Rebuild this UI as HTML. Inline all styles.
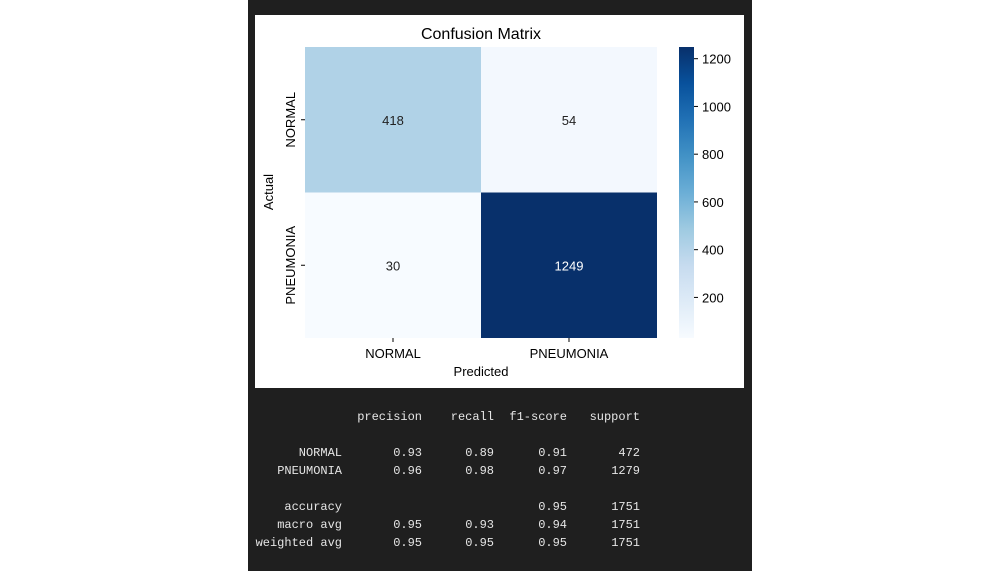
<!DOCTYPE html>
<html><head><meta charset="utf-8"><style>
body{margin:0;background:#fff;width:1000px;height:571px;overflow:hidden}
svg{display:block}
</style></head><body>
<svg id="s" width="1000" height="571" xmlns="http://www.w3.org/2000/svg" font-family="Liberation Sans, DejaVu Sans, sans-serif">
<rect x="248" y="0" width="504" height="571" fill="#1f1f1f"/>
<rect x="255" y="15" width="489" height="373" fill="#ffffff"/>
<text x="481" y="39" font-size="16" text-anchor="middle" fill="#000">Confusion Matrix</text>
<text x="481" y="376" font-size="13" text-anchor="middle" fill="#000">Predicted</text>
<text transform="translate(273,192) rotate(-90)" font-size="13" text-anchor="middle" fill="#000">Actual</text>
<defs><linearGradient id="cg" x1="0" y1="1" x2="0" y2="0">
<stop offset="0" stop-color="#f7fbff"/><stop offset=".125" stop-color="#deebf7"/><stop offset=".25" stop-color="#c6dbef"/><stop offset=".375" stop-color="#9ecae1"/><stop offset=".5" stop-color="#6baed6"/><stop offset=".625" stop-color="#4292c6"/><stop offset=".75" stop-color="#2171b5"/><stop offset=".875" stop-color="#08519c"/><stop offset="1" stop-color="#08306b"/>
</linearGradient></defs>
<rect x="679" y="47" width="15" height="291" fill="url(#cg)"/>
<g id="g"></g>
<g font-family="Liberation Mono, DejaVu Sans Mono, monospace" font-size="12" fill="#e6e6e6" id="t"></g>
</svg>
<script>
const labels=["NORMAL","PNEUMONIA"];
const matrix=[[418,54],[30,1249]];
const cbTicks=[200,400,600,800,1000,1200];
const repCols=["precision","recall","f1-score","support"];
const repRows=["NORMAL","PNEUMONIA","","accuracy","macro avg","weighted avg"];
const repVals=[["0.93","0.89","0.91","472"],["0.96","0.98","0.97","1279"],["","","",""],["","","0.95","1751"],["0.95","0.93","0.94","1751"],["0.95","0.95","0.95","1751"]];

const NS="http://www.w3.org/2000/svg";
const stops=["#f7fbff","#deebf7","#c6dbef","#9ecae1","#6baed6","#4292c6","#2171b5","#08519c","#08306b"];
const vmin=Math.min(...matrix.flat()),vmax=Math.max(...matrix.flat());
function col(v){let t=(v-vmin)/(vmax-vmin)*8;let i=Math.min(7,Math.floor(t)),f=t-i;
const a=stops[i],b=stops[i+1];const p=(h,k)=>parseInt(h.substr(k,2),16);
let c=[1,3,5].map(k=>Math.round(p(a,k)+(p(b,k)-p(a,k))*f));return `rgb(${c})`;}
const hx=305,hy=47,hw=352,hh=291,cw=hw/labels.length,ch=hh/labels.length;
const cbY=v=>338-(v-vmin)/(vmax-vmin)*291;
const g=document.getElementById('g');
function mk(tag,at,txt){const e=document.createElementNS(NS,tag);for(const k in at)e.setAttribute(k,at[k]);if(txt!==undefined)e.textContent=txt;g.appendChild(e);return e;}
matrix.forEach((row,r)=>row.forEach((v,c)=>{
 const rc=mk('rect',{x:hx+c*cw,y:hy+r*ch,width:cw,height:ch,fill:col(v)});
 
 
 const tx=mk('text',{x:hx+(c+.5)*cw,y:hy+(r+.5)*ch+5,'font-size':13,'text-anchor':'middle',fill:(v-vmin)/(vmax-vmin)>0.5?'#fff':'#222'},v);
 
 
}));
labels.forEach((l,i)=>{
 const xt=mk('text',{x:hx+(i+.5)*cw,y:358,'font-size':13,'text-anchor':'middle',fill:'#000'},l);
 
 
 mk('line',{x1:hx+(i+.5)*cw,x2:hx+(i+.5)*cw,y1:338,y2:342,stroke:'#000'});
 const yc=hy+(i+.5)*ch;
 const yt=mk('text',{transform:`translate(295,${yc}) rotate(-90)`,'font-size':13,'text-anchor':'middle',fill:'#000'},l);
 
 
 mk('line',{x1:301,x2:305,y1:yc,y2:yc,stroke:'#000'});
});
cbTicks.forEach(v=>{const y=cbY(v);
 mk('line',{x1:694,x2:698,y1:y,y2:y,stroke:'#000'});
 const t=mk('text',{x:702,y:y+5,'font-size':13,fill:'#000'},v);
 
 
});
const tg=document.getElementById('t');
function tt(x,y,s,nm){const e=document.createElementNS(NS,'text');e.setAttribute('x',x);e.setAttribute('y',y);e.setAttribute('text-anchor','end');e.textContent=s;


tg.appendChild(e);}
const colX=[422,494,567,640];
repCols.forEach((c,i)=>tt(colX[i],420,c,'report-header'));
const rowY=[456,474,492,510,528,546];
repRows.forEach((r,i)=>{if(r)tt(342,rowY[i],r,'report-row-label');repVals[i].forEach((v,j)=>{if(v)tt(colX[j],rowY[i],v,'report-value');});});
</script>
</body></html>
